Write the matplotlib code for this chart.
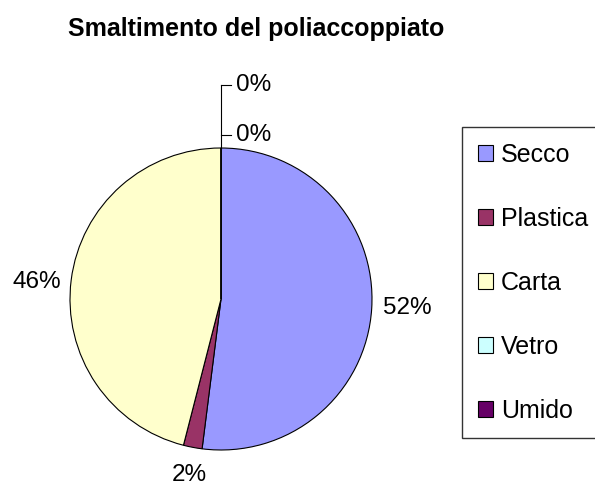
import numpy as np
import matplotlib
matplotlib.use('Agg')
import matplotlib.pyplot as plt
from matplotlib.patches import Patch

plt.rcParams['font.family'] = ['Liberation Sans', 'DejaVu Sans']

# data
categories = ['Secco', 'Plastica', 'Carta', 'Vetro', 'Umido']
values = [52, 2, 46, 0, 0]
colors = ['#9999FF', '#993366', '#FFFFCC', '#CCFFFF', '#660066']

W, H = 595, 486
fig = plt.figure(figsize=(W / 100, H / 100), dpi=100)

# pie axes: centre (221, 299) px, radius 151 px
cx, cy, r = 221, 299, 151
ax = fig.add_axes([(cx - r) / W, (H - cy - r) / H, 2 * r / W, 2 * r / H])
wedges, _ = ax.pie(values, colors=colors, startangle=90, counterclock=False,
                   radius=1, wedgeprops=dict(edgecolor='black', linewidth=0.8))
ax.set_xlim(-1, 1)
ax.set_ylim(-1, 1)
ax.set_aspect('equal')
ax.axis('off')

pct = [f'{v:.0f}%' for v in values]
fs = 17.5

# label placement for non-zero slices (offsets in pixels from the slice edge)
offsets = {0: ((11, 0), 'left'), 1: ((-3, -28), 'center'), 2: ((-10, -2), 'right')}
for i, w in enumerate(wedges):
    if i in offsets:
        mid = np.deg2rad((w.theta1 + w.theta2) / 2)
        (ox, oy), ha = offsets[i]
        ax.annotate(pct[i], xy=(np.cos(mid), np.sin(mid)), xytext=(ox, oy),
                    textcoords='offset pixels', ha=ha, va='center', fontsize=fs,
                    annotation_clip=False)

# zero slices: leader lines from the top of the pie
zero_idx = [i for i, v in enumerate(values) if v == 0]
steps = [13 / r, 63 / r]
top = 1 + steps[-1]
ax.plot([0, 0], [1, top], color='black', lw=0.8, clip_on=False)
for k, i in enumerate(zero_idx):
    y = 1 + steps[k]
    ax.plot([0, 10 / r], [y, y], color='black', lw=0.8, clip_on=False)
    ax.text(15 / r, y, pct[i], ha='left', va='center', fontsize=fs)

fig.text(68 / W, 1 - 29 / H, 'Smaltimento del poliaccoppiato', ha='left',
         va='center', fontsize=18, fontweight='bold')

handles = [Patch(facecolor=c, edgecolor='black', linewidth=0.8) for c in colors]
leg = fig.legend(handles, categories, loc='upper left',
                 bbox_to_anchor=(462 / W, 1 - 127 / H), borderaxespad=0,
                 fontsize=18, frameon=True, fancybox=False, shadow=False,
                 handlelength=0.6, handleheight=0.6, handletextpad=0.33,
                 labelspacing=1.6, borderpad=0.62)
leg.get_frame().set_edgecolor('black')
leg.get_frame().set_linewidth(1.0)

fig.savefig('out.png', dpi=100)
